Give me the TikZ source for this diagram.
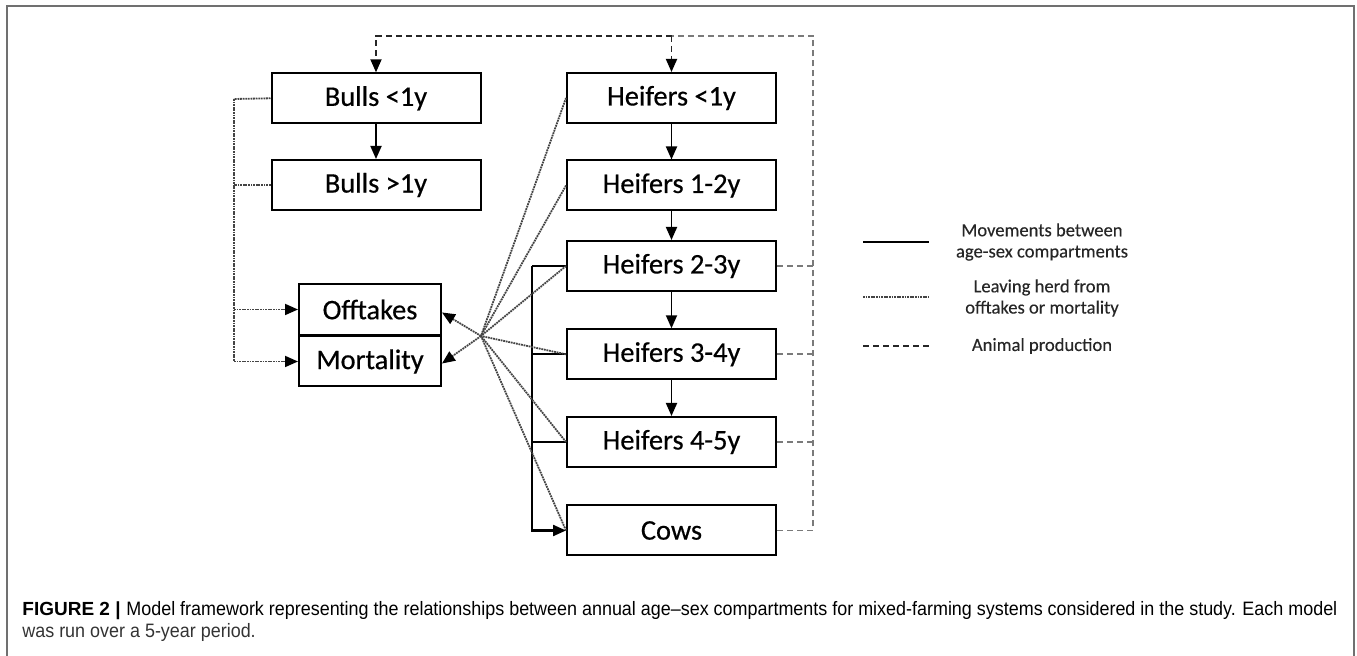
\documentclass[tikz,border=0pt]{standalone}
\usepackage{fontspec}
\usepackage{graphicx}
\newfontfamily\boxfont[FakeBold=0.5]{Carlito}
\newfontfamily\legfont[FakeBold=0.3]{Carlito}
\newfontfamily\capfont{Liberation Sans}
\usetikzlibrary{arrows.meta}
\definecolor{framegray}{HTML}{707070}
\definecolor{capgray}{HTML}{333333}
\definecolor{dotgray}{HTML}{444444}
\definecolor{dashlight}{HTML}{7A7A7A}
\newsavebox\capbold
\newsavebox\caprest
\newlength\caplen
\begin{document}
\sbox\capbold{\capfont\fontsize{9.5}{11}\selectfont\bfseries FIGURE 2 |}%
\sbox\caprest{\capfont\fontsize{9.7}{11}\selectfont Model framework representing the relationships between annual age–sex compartments for mixed-farming systems considered in the study. Each model}%
\setlength\caplen{\wd\caprest}%
\begin{tikzpicture}[x=0.5pt,y=-0.5pt,
  box/.style={draw, line width=1pt, minimum width=104.5pt, minimum height=25pt, inner sep=0pt,
    font=\boxfont\fontsize{14.2}{17}\selectfont},
  sbox/.style={box, minimum width=71pt},
  move/.style={draw=black, line width=0.9pt},
  tip/.style={-{Triangle[length=6.5pt,width=5.5pt,color=black]}},
  leave/.style={draw=dotgray, line width=0.9pt, dash pattern=on 0.9pt off 0.4pt},
  prod/.style={draw=black!85, line width=0.9pt, dash pattern=on 3pt off 2pt},
  prodlight/.style={prod, draw=dashlight},
  legtext/.style={align=center, text=black!85, font=\legfont\fontsize{9.3}{10.6}\selectfont},
  captext/.style={anchor=base west, inner sep=0pt, text=capgray}]
\useasboundingbox (0,0) rectangle (1357,656);
% frame
\coordinate (f1) at (7,656); \coordinate (f2) at (7,6);
\coordinate (f3) at (1354,6); \coordinate (f4) at (1354,656);
\draw[framegray, line width=1pt] (f1) -- (f2) -- (f3) -- (f4);
% boxes
\node[box] (bu1) at (376,98.3) {Bulls <1y};
\node[box] (bu2) at (376,185) {Bulls >1y};
\node[box] (he1) at (671.5,98) {Heifers <1y};
\node[box] (he2) at (671.5,185.5) {Heifers 1-2y};
\node[box] (he3) at (671.5,266) {Heifers 2-3y};
\node[box] (he4) at (671.5,354.3) {Heifers 3-4y};
\node[box] (he5) at (671.5,442) {Heifers 4-5y};
\node[box] (cows) at (671.5,530.5) {Cows};
\node[sbox, minimum height=25.5pt] (off) at (370,309.5) {Offtakes};
\node[sbox] (mort) at (370,361.5) {Mortality};
% solid movements
\draw[move,tip] (bu1) -- (bu2);
\draw[move,tip] (he1) -- (he2);
\draw[move,tip] (he2) -- (he3);
\draw[move,tip] (he3) -- (he4);
\draw[move,tip] (he4) -- (he5);
\coordinate (bt) at (532,266);
\draw[move] (he3.west) -- (bt);
\draw[move, line width=1.1pt, tip] (bt) |- (cows.west);
\draw[move] (he4.west) -- (he4.west -| bt);
\draw[move] (he5.west) -- (he5.west -| bt);
% animal production (dashed)
\coordinate (tr) at (813,36);
\coordinate (tm) at (671.5,36);
\coordinate (tl) at (376,36);
\draw[prodlight] (cows.east) -| (tr) -- (tm);
\draw[prodlight] (he3.east) -- (he3.east -| tr);
\draw[prodlight] (he4.east) -- (he4.east -| tr);
\draw[prodlight] (he5.east) -- (he5.east -| tr);
\draw[prod,tip] (tm) -- (tl) -- (bu1.north);
\draw[prod,tip] (tm) -- (he1.north);
% leaving herd (dotted)
\coordinate (lv) at (234,99);
\draw[leave] (bu1.west) -- (lv);
\draw[leave,tip] (lv) |- (mort.west);
\draw[leave] (bu2.west) -- (bu2.west -| lv);
\draw[leave,tip] (off.west -| lv) -- (off.west);
\coordinate (hub) at (481,336);
\draw[leave] (he1.west) -- (hub);
\draw[leave] (he2.west) -- (hub);
\draw[leave] (he3.west) -- (hub);
\draw[leave] (he4.west) -- (hub);
\draw[leave] (he5.west) -- (hub);
\draw[leave] (cows.west) -- (hub);
\draw[leave,tip] (hub) -- ([yshift=-1.5pt]off.east);
\draw[leave,tip] (hub) -- ([yshift=-1pt]mort.east);
% legend
\coordinate (la1) at (863,242); \coordinate (lb1) at (929,242);
\coordinate (la2) at (863,297); \coordinate (lb2) at (929,297);
\coordinate (la3) at (863,346); \coordinate (lb3) at (929,346);
\draw[move] (la1) -- (lb1);
\draw[leave] (la2) -- (lb2);
\draw[prod] (la3) -- (lb3);
\node[legtext] (lt1) at (1042,242) {Movements between\\age-sex compartments};
\node[legtext] (lt2) at (1042,298) {Leaving herd from\\offtakes or mortality};
\node[legtext] (lt3) at (1042,346) {Animal production};
% caption
\pgfmathsetmacro\capsx{605.5/\caplen}
\node[captext, text=black!85] (cap0) at (22,616) {\usebox\capbold};
\node[captext] (cap1) at (126,616) {\scalebox{\capsx}[1]{\usebox\caprest}};
\node[captext] (cap2) at (22,638) {\scalebox{\capsx}[1]{\capfont\fontsize{9.7}{11}\selectfont was run over a 5-year period.}};
\end{tikzpicture}
\end{document}
